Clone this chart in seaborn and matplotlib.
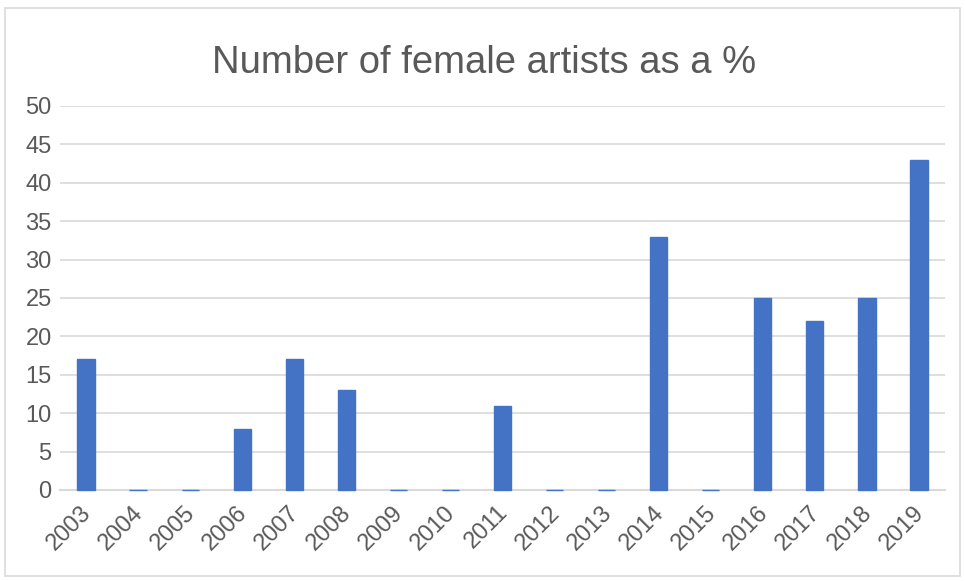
import matplotlib
matplotlib.use("Agg")
import matplotlib.pyplot as plt
import matplotlib.transforms as mtransforms
import seaborn as sns
import pandas as pd
from matplotlib.patches import Rectangle

years = ["2003", "2004", "2005", "2006", "2007", "2008", "2009", "2010", "2011",
         "2012", "2013", "2014", "2015", "2016", "2017", "2018", "2019"]
values = [17, 0, 0, 8, 17, 13, 0, 0, 11, 0, 0, 33, 0, 25, 22, 25, 43]
yticks = [0, 5, 10, 15, 20, 25, 30, 35, 40, 45, 50]

sns.set_theme(style="white")
plt.rcParams['font.family'] = ['Liberation Sans', 'DejaVu Sans']

text_color = "#595959"
bar_color = "#4472C4"
grid_color = "#D9D9D9"

df = pd.DataFrame({"year": years, "value": values})

fig = plt.figure(figsize=(9.65, 5.81), dpi=100)
fig.patch.set_facecolor("white")
fig.patches.append(Rectangle((5/965, 1 - 576/581), 955/965, 568/581, transform=fig.transFigure,
                             fill=False, edgecolor="#D9D9D9", linewidth=1.2))

ax = fig.add_axes([60/965, 1 - 490/581, 885/965, 384/581])
sns.barplot(data=df, x="year", y="value", color=bar_color, saturation=1,
            width=0.33, ax=ax, edgecolor=bar_color, linewidth=1.0)
for p in ax.patches:
    p.set_zorder(3)
    p.set_clip_on(False)

ax.set_ylim(0, 50)
ax.set_yticks(yticks)
ax.set_xlim(-0.5, len(years) - 0.5)
ax.yaxis.grid(True, color=grid_color, linewidth=1.2)
ax.set_axisbelow(True)
for s in ["top", "right", "left"]:
    ax.spines[s].set_visible(False)
ax.spines["bottom"].set_color(grid_color)
ax.spines["bottom"].set_linewidth(1.5)
ax.spines["bottom"].set_zorder(2)
ax.set_xlabel("")
ax.set_ylabel("")
ax.tick_params(axis="y", length=0, labelsize=17, colors=text_color, pad=6)
ax.tick_params(axis="x", length=0, labelsize=17, colors=text_color, pad=4)
offset = mtransforms.ScaledTranslation(-6/100, -6/100, fig.dpi_scale_trans)
for lbl in ax.get_xticklabels():
    lbl.set_rotation(45)
    lbl.set_ha("right")
    lbl.set_rotation_mode("anchor")
    lbl.set_transform(lbl.get_transform() + offset)

fig.text(484/965, 1 - 63/581, "Number of female artists as a %", ha="center", va="center",
         fontsize=27.5, color=text_color)

fig.savefig("out.png", dpi=100)
